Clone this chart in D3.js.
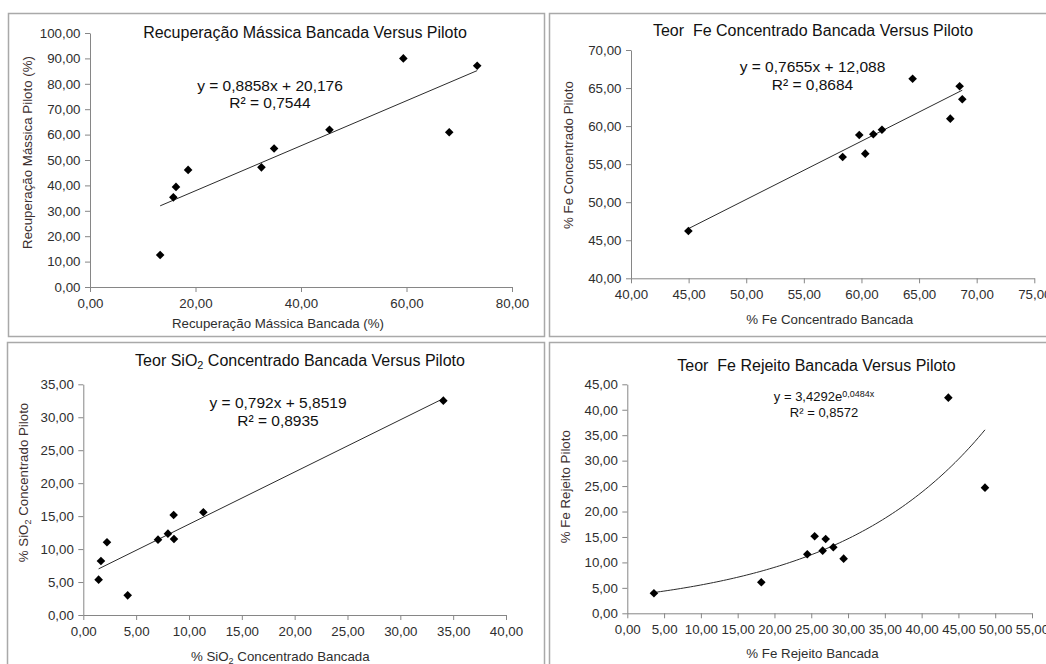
<!DOCTYPE html>
<html>
<head>
<meta charset="utf-8">
<script src="https://cdn.jsdelivr.net/npm/d3@7"></script>
<style>
  html, body { margin: 0; padding: 0; background: #fff; }
  svg { display: block; font-family: "Liberation Sans", Arial, sans-serif; }
  .pre { white-space: pre; }
</style>
</head>
<body>
<svg id="chart" width="1046" height="664"></svg>
<script>
// Recuperação mássica (%) – bancada x piloto
const recBancada = [13.3, 15.8, 16.3, 18.6, 32.5, 34.9, 45.4, 59.4, 68.1, 73.4];
const recPiloto  = [12.6, 35.3, 39.4, 46.1, 47.1, 54.5, 61.9, 90.0, 60.9, 87.1];
const recTicksX  = [0, 20, 40, 60, 80];
const recTicksY  = [0, 10, 20, 30, 40, 50, 60, 70, 80, 90, 100];
const recFit     = [0.8858, 20.176, 0.7544];   // inclinação, intercepto, R²

// Teor de Fe no concentrado (%)
const feConcBancada = [44.98, 58.37, 59.81, 60.33, 61.03, 61.78, 64.44, 67.71, 68.52, 68.75];
const feConcPiloto  = [46.22, 55.94, 58.83, 56.38, 58.92, 59.53, 66.23, 60.98, 65.23, 63.52];
const feConcTicksX  = [40, 45, 50, 55, 60, 65, 70, 75];
const feConcTicksY  = [40, 45, 50, 55, 60, 65, 70];
const feConcFit     = [0.7655, 12.088, 0.8684];

// Teor de SiO2 no concentrado (%)
const sioBancada = [1.45, 1.67, 2.24, 4.20, 7.07, 8.01, 8.55, 8.58, 11.36, 34.07];
const sioPiloto  = [5.36, 8.19, 11.03, 2.98, 11.43, 12.34, 15.17, 11.53, 15.58, 32.52];
const sioTicksX  = [0, 5, 10, 15, 20, 25, 30, 35, 40];
const sioTicksY  = [0, 5, 10, 15, 20, 25, 30, 35];
const sioFit     = [0.792, 5.8519, 0.8935];

// Teor de Fe no rejeito (%) – ajuste exponencial
const feRejBancada = [3.62, 18.21, 24.46, 25.46, 26.55, 26.96, 28.00, 29.40, 43.63, 48.61];
const feRejPiloto  = [3.93, 6.09, 11.59, 15.13, 12.31, 14.61, 12.97, 10.74, 42.38, 24.69];
const feRejTicksX  = [0, 5, 10, 15, 20, 25, 30, 35, 40, 45, 50, 55];
const feRejTicksY  = [0, 5, 10, 15, 20, 25, 30, 35, 40, 45];
const feRejFit     = [3.4292, 0.0484, 0.8572];  // coeficiente, expoente, R²

const dec = v => String(v).replace(".", ",");
const fmt2 = v => d3.format(".2f")(v).replace(".", ",");

const svg = d3.select("#chart");
const TEXT = "#2e2e2e";
const AXIS = "#868686";

const panels = [
  {
    xs: recBancada, ys: recPiloto, tx: recTicksX, ty: recTicksY,
    box: [8.5, 13.5, 536, 323], xr: [90, 512], yr: [287, 33],
    title: [{t: "Recuperação Mássica Bancada Versus Piloto"}], titlePos: [305, 38],
    xLabel: [{t: "Recuperação Mássica Bancada (%)"}], xlPos: [278, 327.6],
    yLabel: [{t: "Recuperação Mássica Piloto (%)"}], ylPos: [31.5, 152.5],
    fit: "lin", coef: recFit, eqPos: [270, 90.7, 108.4], eqSize: 15.5
  },
  {
    xs: feConcBancada, ys: feConcPiloto, tx: feConcTicksX, ty: feConcTicksY,
    box: [549.5, 13.5, 530, 323], xr: [631, 1034.3], yr: [278.3, 50],
    title: [{t: "Teor  Fe Concentrado Bancada Versus Piloto"}], titlePos: [813, 36.4],
    xLabel: [{t: "% Fe Concentrado Bancada"}], xlPos: [829.7, 324.4],
    yLabel: [{t: "% Fe Concentrado Piloto"}], ylPos: [573, 155],
    fit: "lin", coef: feConcFit, eqPos: [812.5, 71.7, 89.6], eqSize: 15.5
  },
  {
    xs: sioBancada, ys: sioPiloto, tx: sioTicksX, ty: sioTicksY,
    box: [7.5, 342.5, 537, 340], xr: [83.3, 506], yr: [615, 384.3],
    title: [{t: "Teor SiO"}, {t: "2", sub: true}, {t: " Concentrado Bancada Versus Piloto"}], titlePos: [300, 366.4],
    xLabel: [{t: "% SiO"}, {t: "2", sub: true}, {t: " Concentrado Bancada"}], xlPos: [280.3, 660.6],
    yLabel: [{t: "% SiO"}, {t: "2", sub: true}, {t: " Concentrado Piloto"}], ylPos: [27.5, 482.5],
    fit: "lin", coef: sioFit, eqPos: [278, 408, 425.8], eqSize: 15.5
  },
  {
    xs: feRejBancada, ys: feRejPiloto, tx: feRejTicksX, ty: feRejTicksY,
    box: [549.5, 342.5, 530, 340], xr: [627.3, 1032], yr: [613.3, 384.3],
    title: [{t: "Teor  Fe Rejeito Bancada Versus Piloto"}], titlePos: [816.5, 371.4],
    xLabel: [{t: "% Fe Rejeito Bancada"}], xlPos: [812.5, 657.6],
    yLabel: [{t: "% Fe Rejeito Piloto"}], ylPos: [569.5, 486.7],
    fit: "exp", coef: feRejFit, eqPos: [824, 401, 416.7], eqSize: 13
  }
];

// Writes a text made of runs, some of them subscripts
function runs(sel, parts, size) {
  parts.forEach(p => {
    const ts = sel.append("tspan").text(p.t);
    if (p.sub) ts.attr("font-size", size * 0.68).attr("baseline-shift", "-28%");
  });
}

const diamond = r => `M0,${-r}L${r},0L0,${r}L${-r},0Z`;

panels.forEach(p => {
  const g = svg.append("g");

  // moldura do gráfico
  g.append("rect")
    .attr("x", p.box[0]).attr("y", p.box[1])
    .attr("width", p.box[2]).attr("height", p.box[3])
    .attr("fill", "none").attr("stroke", "#a9a9a9").attr("stroke-width", 1.5);

  const x = d3.scaleLinear().domain(d3.extent(p.tx)).range(p.xr);
  const y = d3.scaleLinear().domain(d3.extent(p.ty)).range(p.yr);

  const xAxis = g.append("g")
    .attr("transform", `translate(0,${p.yr[0]})`)
    .call(d3.axisBottom(x).tickValues(p.tx).tickFormat(fmt2).tickSizeInner(5).tickSizeOuter(0).tickPadding(6.5));
  const yAxis = g.append("g")
    .attr("transform", `translate(${p.xr[0]},0)`)
    .call(d3.axisLeft(y).tickValues(p.ty).tickFormat(fmt2).tickSizeInner(5).tickSizeOuter(0).tickPadding(4.5));

  [xAxis, yAxis].forEach(a => {
    a.select(".domain").attr("stroke", AXIS);
    a.selectAll(".tick line").attr("stroke", AXIS);
    a.selectAll(".tick text").attr("fill", TEXT).attr("font-size", 13.3)
      .attr("font-family", "'Liberation Sans', Arial, sans-serif");
  });

  // linha de tendência
  const x0 = d3.min(p.xs), x1 = d3.max(p.xs);
  let fitPts;
  if (p.fit === "lin") {
    fitPts = [[x0, p.coef[0] * x0 + p.coef[1]], [x1, p.coef[0] * x1 + p.coef[1]]];
  } else {
    fitPts = d3.range(0, 101).map(i => {
      const xv = x0 + (x1 - x0) * i / 100;
      return [xv, p.coef[0] * Math.exp(p.coef[1] * xv)];
    });
  }
  g.append("path")
    .attr("d", d3.line().x(d => x(d[0])).y(d => y(d[1]))(fitPts))
    .attr("fill", "none").attr("stroke", "#2b2b2b").attr("stroke-width", 1);

  // pontos
  g.selectAll(".pt").data(p.xs.map((v, i) => [v, p.ys[i]]))
    .join("path")
    .attr("class", "pt")
    .attr("transform", d => `translate(${x(d[0])},${y(d[1])})`)
    .attr("d", diamond(4.3))
    .attr("fill", "#000");

  // título
  runs(g.append("text").attr("class", "pre")
    .attr("x", p.titlePos[0]).attr("y", p.titlePos[1])
    .attr("text-anchor", "middle").attr("font-size", 16).attr("fill", "#111"), p.title, 16);

  // rótulos dos eixos
  runs(g.append("text")
    .attr("x", p.xlPos[0]).attr("y", p.xlPos[1])
    .attr("text-anchor", "middle").attr("font-size", 13.3).attr("fill", TEXT), p.xLabel, 13.3);
  runs(g.append("text")
    .attr("transform", `translate(${p.ylPos[0]},${p.ylPos[1]}) rotate(-90)`)
    .attr("text-anchor", "middle").attr("font-size", 13.3).attr("fill", "#3d3030"), p.yLabel, 13.3);

  // equação e R²
  const eq = g.append("text")
    .attr("x", p.eqPos[0]).attr("y", p.eqPos[1])
    .attr("text-anchor", "middle").attr("font-size", p.eqSize).attr("fill", "#111");
  if (p.fit === "lin") {
    eq.text(`y = ${dec(p.coef[0])}x + ${dec(p.coef[1])}`);
  } else {
    eq.append("tspan").text(`y = ${dec(p.coef[0])}e`);
    eq.append("tspan").attr("font-size", 9).attr("dy", -4).text(`${dec(p.coef[1])}x`);
  }
  g.append("text")
    .attr("x", p.eqPos[0]).attr("y", p.eqPos[2])
    .attr("text-anchor", "middle").attr("font-size", p.eqSize).attr("fill", "#111")
    .text(`R² = ${dec(p.coef[2])}`);
});
</script>
</body>
</html>
